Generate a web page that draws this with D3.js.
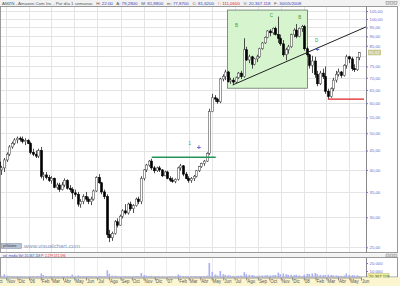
<!DOCTYPE html>
<html>
<head>
<meta charset="utf-8">
<script src="https://cdn.jsdelivr.net/npm/d3@7"></script>
<style>
  body { margin: 0; background: #fff; }
  svg { display: block; font-family: "Liberation Sans", Arial, sans-serif; }
</style>
</head>
<body>
<svg id="chart" width="400" height="286"></svg>
<script>
// weekly candles, AMZN, first week starts Mon 3 Oct 2005
const firstWeek = "2005-10-03";
const opens = [44.5,42,40,40.5,42.5,44,46,47,48,48.5,48.2,47.5,47.8,
  47,44.5,44,43.5,45,38.5,38.8,38.2,37.5,38,36,36.5,35.5,
  36.5,37.5,35.8,35.5,34.8,34.5,32.5,33,34,33.5,33,33.5,35.2,
  38.2,37,35,34,27,26.5,27.2,29.2,28.6,30.2,31.2,30.8,32.5,
  31.6,32.2,33.5,33,38,40,41.2,42.2,40.5,39.8,40.5,40,38.6,
  39.5,38,37.6,37.3,37.8,40.5,41,39,38,37.5,38,38.5,39.8,
  40.8,41.6,42.2,44.2,57,62,61.5,60.5,69.5,70.5,72.5,68.5,69,
  68.2,70,72,70.5,83,78,79.5,76,78.5,79.5,83.5,86.5,89.5,
  93,92,94.5,91,89,86,80.5,83,84.5,91,93.5,90,94.5,
  95.5,83.5,80.5,75.5,77.5,71.5,67.5,72,70.5,64.5,62.5,65.5,69,
  71.5,72.5,71,75.5,79.5,78.5,74,73.5,79.28];
const highs = [45,42.5,41,43,44.5,46.5,47.5,48.5,49,49,49,48.5,48.2,
  47.5,45.5,45,45.5,46,39.5,39.5,38.8,38.5,38.2,37,37,37.2,
  38,37.8,36.5,36,35.5,35,33.5,34.5,35,34,34,35.5,38.5,
  39,37.2,35.5,34.5,27.8,27.5,29.5,29.8,30.5,31.5,32.5,32.8,33,
  32.5,33.8,34,38.5,40.2,41.5,42.5,42.8,41,40.8,41,40.2,39.8,
  39.8,38.5,38.2,38,40.8,41.5,41.2,39.5,38.5,38.3,38.8,40,41,
  41.8,42.5,44.5,58,63.5,63,62,70,71.5,73.5,73,70,70,
  70.5,72.5,73,89,84.5,80.5,80,79,80.5,84,87,90,93.5,
  94,95,95.5,101.5,91,88,84,85.5,91.5,94.5,97,95,96.5,
  96.5,84.5,81,80,79.5,73,73,74,75,65.5,66,70,73,
  74,73,76,80.5,80,79.5,76,79.5,81.88];
const lows = [41.5,39.5,38.8,39.5,42,43.5,45.5,46.5,47,47.5,47,46.5,46.8,
  44,43.5,43,43,38,37.5,37.8,37.2,36.8,35.8,35.5,35,35.3,
  36,35.5,35,33.5,34,32,31.8,32.5,33,32.5,32.3,33.2,35,
  36.8,34.5,33.5,26.5,25.8,26,27,28.2,28.5,29.8,30.5,30.5,31.2,
  30.8,32,32.5,32.5,37.5,39.5,40.8,40,39.2,39.5,39.5,38.3,38.5,
  37.8,37.2,37,36.9,37.5,39.8,38.5,37.8,37,37,37.4,38.2,39.5,
  40.5,41,42,43.8,56.8,60.5,59.8,60,68.5,69,68,67.5,67,
  67.8,69.5,69.5,70,77.5,76.5,74,75.5,77,79,83,86,89,
  90,91,90.5,86.5,85,79.5,77.8,81,84,89.5,89,89.5,92.5,
  82.5,79.5,74,72,70,66.5,67,69.5,63.5,61.5,62,64.5,68,
  70.5,70,70.5,74,76.5,73,72.5,73,77.87];
const closes = [42,40,40.5,42.5,44,46,47,48,48.5,48.2,47.5,47.8,47,
  44.5,44,43.5,45,38.5,38.8,38.2,37.5,38,36,36.5,35.5,36.5,
  37.5,35.8,35.5,34.8,34.5,32.5,33,34,33.5,33,33.5,35.2,38.2,
  37,35,34,27,26.5,27.2,29.2,28.6,30.2,31.2,30.8,32.5,31.6,
  32.2,33.5,33,38,40,41.2,42.2,40.5,39.8,40.5,40,38.6,39.5,
  38,37.6,37.3,37.8,40.5,41,39,38,37.5,38,38.5,39.8,40.8,
  41.6,42.2,44.2,57,62,61.5,60.5,69.5,70.5,72.5,68.5,69,68.2,
  70,72,70.5,83,78,79.5,76,78.5,79.5,83.5,86.5,89.5,93,
  92,94.5,91,89,86,80.5,83,84.5,91,93.5,90,94.5,95.5,
  83.5,80.5,75.5,77.5,71.5,67.5,72,70.5,64.5,62.5,65.5,69,71.5,
  72.5,71,75.5,79.5,78.5,74,73.5,79.28,81.62];
// weekly volume, thousands
const volumes = [5500,4500,4000,6000,4200,3800,3500,3200,3600,3400,3300,3000,2800,
  3800,3600,3400,3700,7000,5000,3800,3500,3600,3900,3400,3300,3200,
  3500,3600,3300,5500,3800,4500,3600,3400,3200,3600,3500,3300,3800,
  3900,3700,3600,11000,6500,4200,4000,3500,3300,3400,3600,3300,3200,
  3300,3400,3500,7500,5000,4200,3800,4000,3600,3400,3300,3500,2600,
  3000,3200,3100,3300,5500,4200,3800,3500,3600,3400,3300,3600,3500,
  3400,3600,4200,20000,9000,5500,4500,10000,6000,5200,4800,4200,4000,
  3800,4200,4500,8500,6000,5200,5000,4200,3800,4400,4600,4500,4800,
  4600,4800,5000,8000,6000,6800,6000,5200,5400,5000,5300,4600,3200,
  5500,6500,6200,6800,7500,6000,5200,4800,5000,5500,5000,4600,4400,
  4200,4000,4300,7000,5200,4800,4500,4600,3600];

const priceTicks = [25,30,35,40,45,50,55,60,65,70,75,80,85,90,95,100,105];
const volTicks = [10000, 20000];
const monthLabels = ["Oct","Nov","Dic","06","Feb","Mar","Abr","May","Jun","Jul","Ago","Sep",
  "Oct","Nov","Dic","07","Feb","Mar","Abr","May","Jun","Jul","Ago","Sep",
  "Oct","Nov","Dic","08","Feb","Mar","Abr","May","Jun"];
const lastClose = "81,62";
const lastVolume = "20.367.118";

// annotations (date, value)
const trendFrom = ["2007-06-26", 67], trendTo = ["2008-06-14", 95.3];
const boxFrom = ["2007-06-12", 105.6], boxTo = ["2008-01-11", 65.7];
const greenLine = ["2006-11-23", "2007-05-12", 43.2];
const redLine = ["2008-03-05", "2008-06-09", 61.5];
const waveLabels = [["2007-07-06", 95.5, "B"], ["2007-10-07", 101.5, "C"], ["2007-12-21", 99.8, "B"],
                    ["2008-02-04", 87.2, "D"], ["2007-03-04", 46.4, "1"]];
const blueMarks = [["2007-03-28", 45.8], ["2008-02-06", 83]];

const parse = d3.timeParse("%Y-%m-%d");
const start = parse(firstWeek);
const weeks = opens.map((o, i) => ({
  date: d3.timeDay.offset(start, i * 7 + 2),
  o: o, h: highs[i], l: lows[i], c: closes[i], v: volumes[i]
}));

const svg = d3.select("#chart");
const plotL = 0, plotR = 366, plotT = 6, plotB = 252;
const volT = 258, volB = 277;

const x = d3.scaleTime()
  .domain([new Date(2005, 9, 1), new Date(2008, 5, 1)])
  .range([-5.5, 361]);
const y = d3.scaleLog().domain([24.3, 108.9]).range([plotB, plotT - 1]);
const yv = d3.scaleLinear().domain([0, 25000]).range([279, 259]);

// header line
svg.append("rect").attr("x", 0).attr("y", 0).attr("width", 400).attr("height", 6).attr("fill", "#f2f2f2");
const head = svg.append("text").attr("x", 2).attr("y", 4.6).attr("font-size", 4.4);
const headParts = [["AMZN - Amazon.Com Inc - Por día 1 semanas   H: ", "#555"], ["22:00", "#3344bb"],
  ["   A: ", "#555"], ["79,2800", "#3344bb"], ["   M: ", "#555"], ["81,8800", "#3344bb"],
  ["   m: ", "#555"], ["77,8700", "#3344bb"], ["   C: ", "#555"], ["81,6200", "#3344bb"],
  ["   ↑: 111,0600", "#dd2222"], ["   V: ", "#555"], ["20.367.118", "#3344bb"],
  ["   F: ", "#555"], ["30/05/2008", "#3344bb"]];
headParts.forEach(p => head.append("tspan").attr("fill", p[1]).attr("xml:space", "preserve").text(p[0]));
head.style("white-space", "pre");

// window buttons
function buttons(by) {
  [0, 1, 2].forEach(k => {
    svg.append("rect").attr("x", 386 + k * 4).attr("y", by).attr("width", 3).attr("height", 3)
      .attr("fill", "#ddd").attr("stroke", "#777").attr("stroke-width", 0.4);
  });
}

// panels
svg.append("rect").attr("x", 0.5).attr("y", plotT + 0.5).attr("width", 397).attr("height", plotB - plotT)
  .attr("fill", "#fff").attr("stroke", "#999");
svg.append("rect").attr("x", 0.5).attr("y", volT - 4.5).attr("width", 397).attr("height", 4)
  .attr("fill", "#f2f2f2").attr("stroke", "none");
svg.append("rect").attr("x", 0.5).attr("y", volT - 0.5).attr("width", 397).attr("height", volB - volT + 0.5)
  .attr("fill", "#fff").attr("stroke", "#999");
buttons(1.5);
buttons(volT - 4);

// grid
const months = d3.timeMonth.range(new Date(2005, 9, 1), new Date(2008, 6, 1));
const gridMonths = months.filter(m => m.getMonth() % 2 === 0);
svg.append("g").selectAll("line").data(gridMonths).join("line")
  .attr("x1", d => Math.round(x(d)) + 0.5).attr("x2", d => Math.round(x(d)) + 0.5)
  .attr("y1", plotT + 1).attr("y2", plotB)
  .attr("stroke", "#e4e4e4").attr("stroke-width", 1);
svg.append("g").selectAll("line").data(priceTicks).join("line")
  .attr("x1", plotL + 1).attr("x2", plotR)
  .attr("y1", d => Math.round(y(d)) + 0.5).attr("y2", d => Math.round(y(d)) + 0.5)
  .attr("stroke", "#e4e4e4").attr("stroke-width", 1);
svg.append("g").selectAll("line").data(gridMonths).join("line")
  .attr("x1", d => Math.round(x(d)) + 0.5).attr("x2", d => Math.round(x(d)) + 0.5)
  .attr("y1", volT).attr("y2", volB)
  .attr("stroke", "#ececec");

// green box
svg.append("rect")
  .attr("x", x(parse(boxFrom[0]))).attr("y", y(boxFrom[1]))
  .attr("width", x(parse(boxTo[0])) - x(parse(boxFrom[0])))
  .attr("height", y(boxTo[1]) - y(boxFrom[1]))
  .attr("fill", "#d6f5cf").attr("stroke", "#667766").attr("stroke-width", 0.8);

// candles
const plot = svg.append("g");
plot.selectAll("line.wick").data(weeks).join("line").attr("class", "wick")
  .attr("x1", d => Math.round(x(d.date)) + 0.5).attr("x2", d => Math.round(x(d.date)) + 0.5)
  .attr("y1", d => y(d.h)).attr("y2", d => y(d.l))
  .attr("stroke", "#222").attr("stroke-width", 0.8);
plot.selectAll("rect.body").data(weeks).join("rect").attr("class", "body")
  .attr("x", d => Math.round(x(d.date)) - 0.5)
  .attr("width", 2)
  .attr("y", d => y(Math.max(d.o, d.c)))
  .attr("height", d => Math.max(0.8, Math.abs(y(d.o) - y(d.c))))
  .attr("fill", d => d.c >= d.o ? "#fff" : "#000")
  .attr("stroke", d => d.c >= d.o ? "#555" : "#000")
  .attr("stroke-width", 0.6);

// annotations
svg.append("line")
  .attr("x1", x(parse(trendFrom[0]))).attr("y1", y(trendFrom[1]))
  .attr("x2", x(parse(trendTo[0]))).attr("y2", y(trendTo[1]))
  .attr("stroke", "#222").attr("stroke-width", 1);
svg.append("line")
  .attr("x1", x(parse(greenLine[0]))).attr("x2", x(parse(greenLine[1])))
  .attr("y1", y(greenLine[2])).attr("y2", y(greenLine[2]))
  .attr("stroke", "#23935a").attr("stroke-width", 1.6);
svg.append("line")
  .attr("x1", x(parse(redLine[0]))).attr("x2", x(parse(redLine[1])))
  .attr("y1", y(redLine[2])).attr("y2", y(redLine[2]))
  .attr("stroke", "#e02020").attr("stroke-width", 1.4);
svg.append("g").selectAll("text").data(waveLabels).join("text")
  .attr("x", d => x(parse(d[0]))).attr("y", d => y(d[1]))
  .attr("font-size", 4.5).attr("text-anchor", "middle").attr("fill", "#3a9a3a")
  .text(d => d[2]);
svg.append("g").selectAll("text").data(blueMarks).join("text")
  .attr("x", d => x(parse(d[0]))).attr("y", d => y(d[1]) + 2)
  .attr("font-size", 7).attr("font-weight", "bold").attr("text-anchor", "middle")
  .attr("fill", "#5566dd").text("+");

// price axis
svg.append("line").attr("x1", plotR + 0.5).attr("x2", plotR + 0.5).attr("y1", plotT).attr("y2", plotB + 1)
  .attr("stroke", "#888");
svg.append("line").attr("x1", plotR + 0.5).attr("x2", plotR + 0.5).attr("y1", volT).attr("y2", volB)
  .attr("stroke", "#888");
const axisY = d3.axisRight(y).tickValues(priceTicks).tickSize(2)
  .tickFormat(d => d3.format(".2f")(d).replace(".", ","));
const gy = svg.append("g").attr("transform", `translate(${plotR},0)`).call(axisY);
gy.select(".domain").remove();
gy.selectAll(".tick line").attr("stroke", "#7777cc");
gy.selectAll(".tick text").attr("font-size", 4.3).attr("fill", "#6a6ac8").attr("x", 3.5)
  .attr("font-family", "'Liberation Sans', Arial, sans-serif");
gy.selectAll(".tick").filter(d => d === 80).remove();

// last price tag
svg.append("rect").attr("x", plotR + 2).attr("y", y(81.62) - 2.8).attr("width", 13).attr("height", 5.6)
  .attr("fill", "#c8c890");
svg.append("text").attr("x", plotR + 3).attr("y", y(81.62) + 1.6).attr("font-size", 4.3)
  .attr("fill", "#fff").text(lastClose);

// watermark
svg.append("rect").attr("x", 1.5).attr("y", 243.5).attr("width", 20).attr("height", 5)
  .attr("fill", "#b9c3d3").attr("stroke", "#7788a0").attr("stroke-width", 0.5);
svg.append("text").attr("x", 3).attr("y", 247.4).attr("font-size", 3.2).attr("fill", "#334")
  .text("prVolume");
svg.append("text").attr("x", 24).attr("y", 248).attr("font-size", 6).attr("fill", "#8a9ac0")
  .text("www.visualchart.com");

// volume panel
const vh = svg.append("text").attr("x", 3).attr("y", 256.6).attr("font-size", 3.2);
vh.append("tspan").attr("fill", "#3344bb").text("vol_media Vol: 20.367.118 ");
vh.append("tspan").attr("fill", "#dd2222").text("P: 2.279.571.596");

svg.append("g").selectAll("rect").data(weeks).join("rect")
  .attr("x", d => Math.round(x(d.date)) - 0.5).attr("width", 1.6)
  .attr("y", d => yv(d.v)).attr("height", d => yv(0) - yv(d.v))
  .attr("fill", "#aab0f4");

const axisV = d3.axisRight(yv).tickValues(volTicks).tickSize(2)
  .tickFormat(d => d3.format(",")(d).replace(/,/g, "."));
const gv = svg.append("g").attr("transform", `translate(${plotR},0)`).call(axisV);
gv.select(".domain").remove();
gv.selectAll(".tick line").attr("stroke", "#7777cc");
gv.selectAll(".tick text").attr("font-size", 4.3).attr("fill", "#6a6ac8").attr("x", 3.5)
  .attr("font-family", "'Liberation Sans', Arial, sans-serif");
svg.append("rect").attr("x", plotR + 2).attr("y", 273.5).attr("width", 21).attr("height", 5.4)
  .attr("fill", "#eeee99").attr("stroke", "#aaa860").attr("stroke-width", 0.4);
svg.append("text").attr("x", plotR + 3).attr("y", 277.6).attr("font-size", 4.1).attr("fill", "#444")
  .text(lastVolume);

// month band
svg.append("rect").attr("x", 0).attr("y", volB + 0.5).attr("width", 400).attr("height", 286 - volB)
  .attr("fill", "#fbf6cf");
const gx = svg.append("g").attr("transform", `translate(0,${volB + 0.5})`)
  .call(d3.axisBottom(x).tickValues(months).tickSize(3).tickFormat((d, i) => monthLabels[i]));
gx.select(".domain").attr("stroke", "#999");
gx.selectAll(".tick line").attr("stroke", "#888");
gx.selectAll(".tick text").attr("font-size", 4.5).attr("fill", "#555").attr("y", 4.5)
  .attr("dy", "0.3em").attr("text-anchor", "start").attr("dx", 0.5)
  .attr("font-family", "'Liberation Sans', Arial, sans-serif");
</script>
</body>
</html>
